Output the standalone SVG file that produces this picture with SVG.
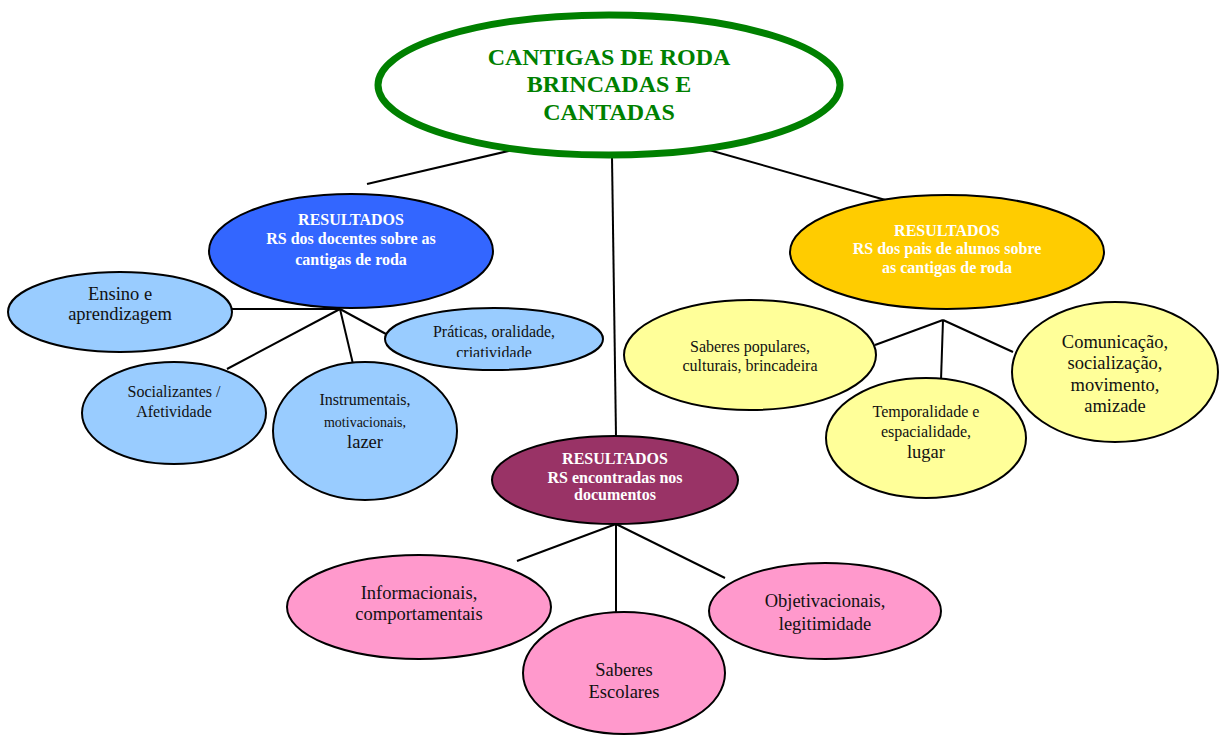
<svg xmlns="http://www.w3.org/2000/svg" width="1222" height="735" viewBox="0 0 1222 735" font-family="'Liberation Serif','Times New Roman',serif">
<style>
text{font-family:"Liberation Serif","Times New Roman",serif;text-anchor:middle}
.n{stroke:#000;stroke-width:2}
.b{font-weight:bold;fill:#fff;font-size:16px}
.t{fill:#111;font-size:16px}
.L{font-size:18.5px}
.c line{stroke:#000;stroke-width:2}
</style>
<defs>
<clipPath id="cp"><rect x="385" y="300" width="220" height="57"/></clipPath>
</defs>
<rect width="1222" height="735" fill="#fff"/>
<g class="c" id="connectors">
<line x1="517" y1="149" x2="367" y2="184"/>
<line x1="612" y1="157" x2="616" y2="436"/>
<line x1="709" y1="150" x2="889" y2="201"/>
<line x1="340" y1="309" x2="232" y2="309"/>
<line x1="340" y1="309" x2="227" y2="369"/>
<line x1="340" y1="309" x2="353" y2="364"/>
<line x1="340" y1="309" x2="386" y2="334"/>
<line x1="943" y1="320" x2="875" y2="345"/>
<line x1="943" y1="320" x2="941" y2="380"/>
<line x1="943" y1="320" x2="1013" y2="352"/>
<line x1="616" y1="524" x2="517" y2="561"/>
<line x1="616" y1="524" x2="616" y2="612"/>
<line x1="616" y1="524" x2="725" y2="578"/>
</g>
<g id="root">
<ellipse cx="609" cy="85" rx="231" ry="70" fill="#fff" stroke="#008000" stroke-width="7"/>
<text x="609" y="65" font-size="24" font-weight="bold" fill="#008000">CANTIGAS DE RODA</text>
<text x="609" y="92" font-size="24" font-weight="bold" fill="#008000">BRINCADAS E</text>
<text x="609" y="120" font-size="24" font-weight="bold" fill="#008000">CANTADAS</text>
</g>
<g id="docentes">
<ellipse class="n" cx="351" cy="251" rx="142" ry="57" fill="#3366FF"/>
<text class="b" x="351" y="225">RESULTADOS</text>
<text class="b" x="351" y="244">RS dos docentes sobre as</text>
<text class="b" x="351" y="265">cantigas de roda</text>
</g>
<g id="ensino">
<ellipse class="n" cx="120" cy="312" rx="112" ry="40" fill="#99CCFF"/>
<text class="t L" x="120" y="300">Ensino e</text>
<text class="t L" x="120" y="320">aprendizagem</text>
</g>
<g id="praticas">
<ellipse class="n" cx="494" cy="339" rx="109" ry="31" fill="#99CCFF"/>
<g clip-path="url(#cp)">
<text class="t" x="494" y="337">Práticas, oralidade,</text>
<text class="t" x="494" y="358">criatividade</text>
</g>
</g>
<g id="socializantes">
<ellipse class="n" cx="174" cy="413" rx="92" ry="51" fill="#99CCFF"/>
<text class="t" x="174" y="397">Socializantes /</text>
<text class="t" x="174" y="417">Afetividade</text>
</g>
<g id="instrumentais">
<ellipse class="n" cx="365" cy="431" rx="92" ry="69" fill="#99CCFF"/>
<text class="t" x="365" y="405">Instrumentais,</text>
<text class="t" x="365" y="427" style="font-size:14px">motivacionais,</text>
<text class="t L" x="365" y="448">lazer</text>
</g>
<g id="pais">
<ellipse class="n" cx="947" cy="252" rx="157" ry="57" fill="#FFCC00"/>
<text class="b" x="947" y="236">RESULTADOS</text>
<text class="b" x="947" y="254">RS dos pais de alunos sobre</text>
<text class="b" x="947" y="273">as cantigas de roda</text>
</g>
<g id="saberes-populares">
<ellipse class="n" cx="750" cy="355" rx="126" ry="55" fill="#FFFF99"/>
<text class="t" x="750" y="352">Saberes populares,</text>
<text class="t" x="750" y="371">culturais, brincadeira</text>
</g>
<g id="temporalidade">
<ellipse class="n" cx="926" cy="438" rx="100" ry="60" fill="#FFFF99"/>
<text class="t" x="926" y="417">Temporalidade e</text>
<text class="t" x="926" y="437">espacialidade,</text>
<text class="t L" x="926" y="458">lugar</text>
</g>
<g id="comunicacao">
<ellipse class="n" cx="1115" cy="372" rx="103" ry="70" fill="#FFFF99"/>
<text class="t L" x="1115" y="348">Comunicação,</text>
<text class="t L" x="1115" y="369">socialização,</text>
<text class="t L" x="1115" y="391">movimento,</text>
<text class="t L" x="1115" y="412">amizade</text>
</g>
<g id="documentos">
<ellipse class="n" cx="615" cy="480" rx="123" ry="44" fill="#993366"/>
<text class="b" x="615" y="464">RESULTADOS</text>
<text class="b" x="615" y="483">RS encontradas nos</text>
<text class="b" x="615" y="500">documentos</text>
</g>
<g id="informacionais">
<ellipse class="n" cx="419" cy="607" rx="132" ry="52" fill="#FF99CC"/>
<text class="t L" x="419" y="599">Informacionais,</text>
<text class="t L" x="419" y="620">comportamentais</text>
</g>
<g id="escolares">
<ellipse class="n" cx="624" cy="673" rx="101" ry="61" fill="#FF99CC"/>
<text class="t L" x="624" y="676">Saberes</text>
<text class="t L" x="624" y="698">Escolares</text>
</g>
<g id="objetivacionais">
<ellipse class="n" cx="825" cy="611" rx="116" ry="48" fill="#FF99CC"/>
<text class="t L" x="825" y="607">Objetivacionais,</text>
<text class="t L" x="825" y="630">legitimidade</text>
</g>
</svg>
